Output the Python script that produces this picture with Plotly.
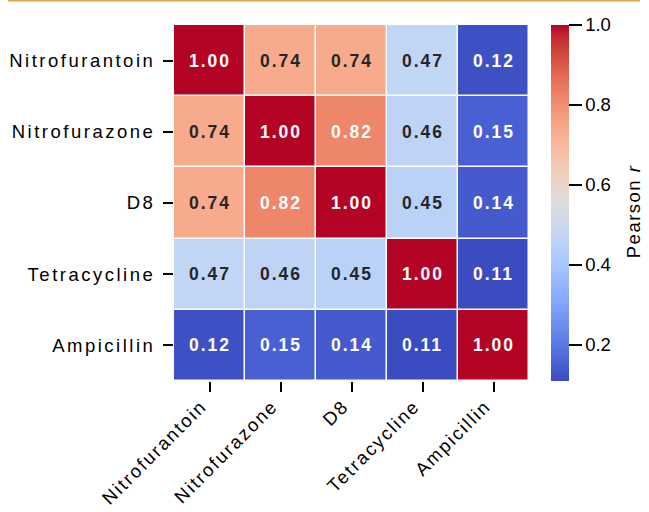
import plotly.graph_objects as go

labels = ["Nitrofurantoin", "Nitrofurazone", "D8", "Tetracycline", "Ampicillin"]
values = [
    [1.00, 0.74, 0.74, 0.47, 0.12],
    [0.74, 1.00, 0.82, 0.46, 0.15],
    [0.74, 0.82, 1.00, 0.45, 0.14],
    [0.47, 0.46, 0.45, 1.00, 0.11],
    [0.12, 0.15, 0.14, 0.11, 1.00],
]
cbar_ticks = [0.2, 0.4, 0.6, 0.8, 1.0]
cbar_title = "Pearson <i>r</i>"

# Moreland coolwarm
cw = [
    (59, 76, 192), (68, 90, 204), (77, 104, 215), (87, 117, 225), (98, 130, 234),
    (108, 142, 241), (119, 154, 247), (130, 165, 251), (141, 176, 254), (152, 185, 255),
    (163, 194, 255), (174, 201, 253), (184, 208, 249), (194, 213, 244), (204, 217, 238),
    (213, 219, 230), (221, 221, 221), (229, 216, 209), (236, 211, 197), (241, 204, 185),
    (245, 196, 173), (247, 187, 160), (247, 177, 148), (247, 166, 135), (244, 154, 123),
    (241, 141, 111), (236, 127, 99), (229, 112, 88), (222, 96, 77), (213, 80, 66),
    (203, 62, 56), (192, 40, 47), (180, 4, 38),
]
n = len(cw) - 1
colorscale = [[i / n, "rgb(%d,%d,%d)" % c] for i, c in enumerate(cw)]

zmin = min(min(r) for r in values)
zmax = 1.0


def color_at(v):
    t = (v - zmin) / (zmax - zmin)
    t = max(0.0, min(1.0, t))
    p = t * n
    i = min(int(p), n - 1)
    f = p - i
    return [cw[i][k] + (cw[i + 1][k] - cw[i][k]) * f for k in range(3)]


def lum(rgb):
    out = []
    for c in rgb:
        c = c / 255
        out.append(c / 12.92 if c <= 0.04045 else ((c + 0.055) / 1.055) ** 2.4)
    return 0.2126 * out[0] + 0.7152 * out[1] + 0.0722 * out[2]


FONT = "Liberation Sans, Arial"

fig = go.Figure()
fig.add_trace(go.Heatmap(
    z=values, x=labels, y=labels,
    colorscale=colorscale, zmin=zmin, zmax=zmax,
    xgap=1.5, ygap=1.5,
    hoverinfo="skip",
    colorbar=dict(
        thickness=17.5, len=1.0, lenmode="fraction",
        x=1.062, xanchor="left", y=0.5, yanchor="middle",
        xpad=0, ypad=0, outlinewidth=0,
        tickvals=cbar_ticks, ticktext=["%.1f" % t for t in cbar_ticks],
        ticks="outside", ticklen=13, tickwidth=2, tickcolor="black",
        tickfont=dict(family=FONT, size=18.5, color="black"),
    ),
))

for i, row in enumerate(values):
    for j, v in enumerate(row):
        col = "#262626" if lum(color_at(v)) > 0.408 else "white"
        fig.add_annotation(
            x=labels[j], y=labels[i], text="%.2f" % v, showarrow=False,
            font=dict(family=FONT, size=17.5, color=col, weight="bold"),
        )

# colorbar title
fig.add_annotation(
    xref="paper", yref="paper", x=(633 - 174) / 355, y=(381 - 211.5) / 356,
    text=cbar_title, showarrow=False, textangle=-90,
    xanchor="center", yanchor="middle",
    font=dict(family=FONT, size=18.5, color="black"),
)

fig.add_shape(type="line", xref="paper", yref="paper",
              x0=(8 - 174) / 355, x1=(640 - 174) / 355,
              y0=(381 - 0.5) / 356, y1=(381 - 0.5) / 356,
              line=dict(color="#D4A843", width=2))

axis_font = dict(family=FONT, size=18.5, color="black")
fig.update_xaxes(
    tickangle=-45, ticks="outside", ticklen=10, tickwidth=2, tickcolor="black",
    tickfont=axis_font, showgrid=False, zeroline=False, showline=False,
    ticklabelstandoff=-4, ticklabelshift=-8,
)
fig.update_yaxes(
    autorange="reversed", ticks="outside", ticklen=10, tickwidth=2, tickcolor="black",
    tickfont=axis_font, showgrid=False, zeroline=False, showline=False,
    ticklabelstandoff=4,
)
fig.update_layout(
    width=649, height=512,
    margin=dict(l=174, r=120, t=25, b=131, autoexpand=False),
    paper_bgcolor="white", plot_bgcolor="white",
    showlegend=False,
)

post = """
document.body.style.margin = '0';
document.documentElement.style.overflow = 'hidden';
document.querySelectorAll('.xtick text').forEach(function(e){
  e.style.letterSpacing = '2px';
});
document.querySelectorAll('.ytick text').forEach(function(e){
  e.style.letterSpacing = '2.5px';
});
document.querySelectorAll('.annotation-text').forEach(function(e){
  if (e.textContent.indexOf('Pearson') >= 0) { e.style.letterSpacing = '1.5px'; }
  else { e.style.letterSpacing = '2px'; }
});
"""
fig.write_html("out.html", post_script=post, config={"displayModeBar": False})
